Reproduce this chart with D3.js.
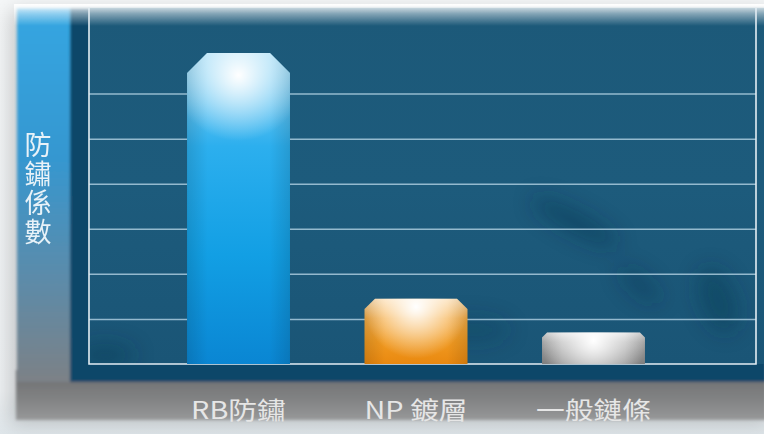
<!DOCTYPE html>
<html>
<head>
<meta charset="utf-8">
<script src="https://cdn.jsdelivr.net/npm/d3@7"></script>
<style>
  body { margin: 0; background: #f3f5f7; }
  svg { display: block; }
</style>
</head>
<body>
<div id="chart"></div>
<script>
// chart data
var categories = ['RB防鏽', 'NP 鍍層', '一般鏈條'];
var values = [6.9, 1.45, 0.7];
var gridTicks = [1, 2, 3, 4, 5, 6];
var yTitle = '防鏽係數';

// bar palettes: [top, upper, lower, bottom]
var palettes = [
  ['#9bdaf6', '#2cafee', '#129fe4', '#0a86d3'],
  ['#fcdcae', '#f6ae48', '#f09a22', '#e9880f'],
  ['#e2e2e2', '#b9b9b9', '#a2a2a2', '#8e8e8e']
];

var width = 764, height = 434;
var plot = { left: 89, right: 756, top: 8, bottom: 364 };

var svg = d3.select('#chart').append('svg')
  .attr('width', width)
  .attr('height', height);

var defs = svg.append('defs');

function linGrad(id, stops, horizontal) {
  var g = defs.append('linearGradient').attr('id', id)
    .attr('x1', 0).attr('y1', 0)
    .attr('x2', horizontal ? 1 : 0).attr('y2', horizontal ? 0 : 1);
  stops.forEach(function(s) {
    g.append('stop').attr('offset', s[0]).attr('stop-color', s[1])
      .attr('stop-opacity', s[2] == null ? 1 : s[2]);
  });
  return g;
}

defs.append('filter').attr('id', 'soft').attr('x', '-10%').attr('y', '-10%')
  .attr('width', '120%').attr('height', '120%')
  .append('feGaussianBlur').attr('stdDeviation', 1.4);
defs.append('filter').attr('id', 'blotch').attr('x', '-50%').attr('y', '-50%')
  .attr('width', '200%').attr('height', '200%')
  .append('feGaussianBlur').attr('stdDeviation', 10);

linGrad('pageBg', [[0, '#f5f7f8'], [0.9, '#eef1f3'], [1, '#dfe6ea']]);
linGrad('leftStrip', [[0, '#33a6e2'], [0.4, '#3597d0'], [0.75, '#5f8aa6'], [1, '#7c8186']]);
linGrad('bottomStrip', [[0, '#6a6c6e'], [0.6, '#828384'], [1, '#979899']]);
linGrad('plotBg', [[0, '#1c5979'], [0.5, '#1d5b7c'], [1, '#1a5576']]);
linGrad('gloss', [[0, '#ffffff', 0.95], [0.45, '#ffffff', 0.45], [1, '#ffffff', 0]]);

// page background
svg.append('rect').attr('width', width).attr('height', height).attr('fill', 'url(#pageBg)');

// panel shadow + panel
svg.append('rect')
  .attr('x', 10).attr('y', 10).attr('width', 760).attr('height', 414)
  .attr('fill', '#000').attr('opacity', 0.18).attr('filter', 'url(#blotch)');

var panel = svg.append('g').attr('filter', 'url(#soft)');
panel.append('rect').attr('x', 16).attr('y', 370).attr('width', 750).attr('height', 50)
  .attr('fill', 'url(#bottomStrip)');
panel.append('rect').attr('x', 17).attr('y', 8).attr('width', 56).attr('height', 374)
  .attr('fill', 'url(#leftStrip)');
panel.append('rect').attr('x', 70).attr('y', 8).attr('width', 696).attr('height', 374)
  .attr('fill', '#0f4669');

// plot background
svg.append('rect')
  .attr('x', plot.left).attr('y', plot.top)
  .attr('width', width - plot.left).attr('height', plot.bottom - plot.top)
  .attr('fill', 'url(#plotBg)');

// faint map texture
defs.append('clipPath').attr('id', 'plotClip').append('rect')
  .attr('x', plot.left).attr('y', plot.top)
  .attr('width', plot.right - plot.left).attr('height', plot.bottom - plot.top);
var tex = svg.append('g').attr('clip-path', 'url(#plotClip)')
  .attr('filter', 'url(#blotch)').attr('fill', '#0b3049');
tex.append('ellipse').attr('cx', 575).attr('cy', 222).attr('rx', 48).attr('ry', 11)
  .attr('transform', 'rotate(28,575,222)').attr('opacity', 0.4);
tex.append('ellipse').attr('cx', 640).attr('cy', 285).attr('rx', 26).attr('ry', 10)
  .attr('transform', 'rotate(40,640,285)').attr('opacity', 0.3);
tex.append('ellipse').attr('cx', 718).attr('cy', 300).attr('rx', 18).attr('ry', 34)
  .attr('transform', 'rotate(-20,718,300)').attr('opacity', 0.35);
tex.append('ellipse').attr('cx', 105).attr('cy', 355).attr('rx', 30).attr('ry', 12)
  .attr('opacity', 0.35);
tex.append('ellipse').attr('cx', 470).attr('cy', 330).attr('rx', 40).attr('ry', 14)
  .attr('opacity', 0.22);

// scales
var x = d3.scaleBand()
  .domain(categories)
  .range([110, 722])
  .paddingInner(0.42)
  .paddingOuter(0.434);

var y = d3.scaleLinear()
  .domain([0, 7.9])
  .range([plot.bottom, plot.top]);

// gridlines
var grid = svg.append('g')
  .attr('transform', 'translate(' + plot.left + ',0)')
  .call(d3.axisLeft(y).tickValues(gridTicks).tickSize(-(plot.right - plot.left)).tickFormat(''));
grid.select('.domain').remove();
grid.selectAll('.tick line')
  .attr('stroke', '#b3d2e4')
  .attr('stroke-opacity', 0.8)
  .attr('stroke-width', 1.5);

// top gloss
svg.append('rect').attr('x', 14).attr('y', 4).attr('width', 752).attr('height', 22)
  .attr('fill', 'url(#gloss)');

// frame
svg.append('path')
  .attr('d', 'M' + plot.left + ',' + plot.top + 'V' + plot.bottom + 'H' + plot.right + 'V' + plot.top)
  .attr('fill', 'none')
  .attr('stroke', '#e3edf3')
  .attr('stroke-width', 1.6);

// bars with chamfered tops
function barPath(x0, w, yTop, yBase) {
  var c = Math.min(20, (yBase - yTop) * 0.16);
  return 'M' + x0 + ',' + yBase +
    'V' + (yTop + c) +
    'L' + (x0 + c) + ',' + yTop +
    'H' + (x0 + w - c) +
    'L' + (x0 + w) + ',' + (yTop + c) +
    'V' + yBase + 'Z';
}

categories.forEach(function(cat, i) {
  var p = palettes[i];
  linGrad('barFill' + i, [[0, p[0]], [0.3, p[1]], [0.65, p[2]], [1, p[3]]]);
  linGrad('barEdge' + i, [[0, '#000', 0.12], [0.2, '#000', 0], [0.8, '#000', 0], [1, '#000', 0.12]], true);
  var cx = x(cat) + x.bandwidth() / 2;
  var top = y(values[i]);
  var rg = defs.append('radialGradient').attr('id', 'barGlow' + i)
    .attr('gradientUnits', 'userSpaceOnUse')
    .attr('cx', cx).attr('cy', top + (i === 0 ? 22 : 8))
    .attr('r', i === 0 ? 66 : 52);
  rg.append('stop').attr('offset', 0).attr('stop-color', '#fff').attr('stop-opacity', 1);
  rg.append('stop').attr('offset', 0.45).attr('stop-color', '#fff').attr('stop-opacity', 0.55);
  rg.append('stop').attr('offset', 1).attr('stop-color', '#fff').attr('stop-opacity', 0);
});

var bars = svg.append('g').selectAll('g')
  .data(values)
  .join('g');

['barFill', 'barEdge', 'barGlow'].forEach(function(layer) {
  bars.append('path')
    .attr('d', function(d, i) { return barPath(x(categories[i]), x.bandwidth(), y(d), y(0)); })
    .attr('fill', function(d, i) { return 'url(#' + layer + i + ')'; });
});

// category labels
svg.append('g').selectAll('text')
  .data(categories)
  .join('text')
  .attr('transform', function(d) {
    return 'translate(' + (x(d) + x.bandwidth() / 2) + ',419) scale(1.2,1)';
  })
  .attr('text-anchor', 'middle')
  .attr('font-family', '"Noto Sans CJK TC", "Noto Sans", sans-serif')
  .attr('font-size', 24)
  .attr('fill', '#e6e6e6')
  .text(function(d) { return d; });

// vertical y title
svg.append('text')
  .attr('x', 38)
  .attr('y', 131)
  .attr('writing-mode', 'vertical-rl')
  .attr('font-family', '"Noto Sans CJK TC", sans-serif')
  .attr('font-size', 27)
  .attr('letter-spacing', 2)
  .attr('fill', '#e8f2f8')
  .text(yTitle);
</script>
</body>
</html>
